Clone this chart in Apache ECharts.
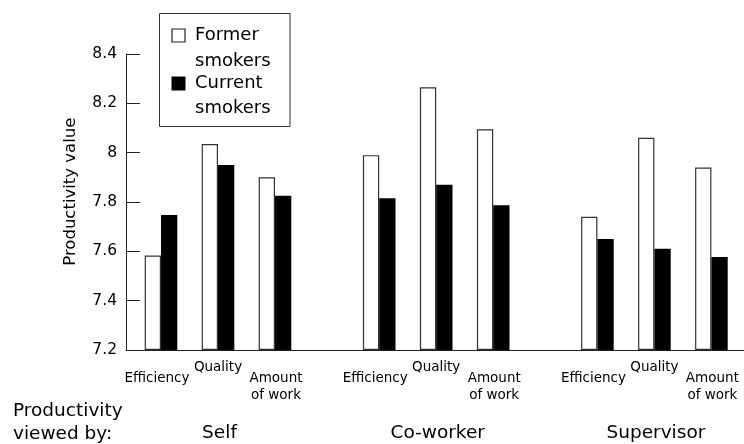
<!DOCTYPE html>
<html><head><meta charset="utf-8">
<script src="https://cdn.jsdelivr.net/npm/echarts@6/dist/echarts.min.js"></script>
<style>html,body{margin:0;padding:0;background:#fff}#c{width:744px;height:444px}</style>
</head><body><div id="c"></div>
<script>
// ---- data ----
const groups = ['Self', 'Co-worker', 'Supervisor'];
const measures = ['Efficiency', 'Quality', 'Amount\nof work'];
const formerSmokers = [7.583, 8.035, 7.90, 7.99, 8.265, 8.095, 7.74, 8.06, 7.94];
const currentSmokers = [7.747, 7.95, 7.825, 7.815, 7.87, 7.787, 7.65, 7.61, 7.577];
const yMin = 7.2, yMax = 8.4, yStep = 0.2;
const seriesNames = ['Former smokers', 'Current smokers'];
const yTitle = 'Productivity value';
const groupTitle = 'Productivity\nviewed by:';

// ---- layout ----
const FONT = 'DejaVu Sans';
const INK = '#000';
const PX = 57;                 // pixels per sub step
const FIRST = 35 / PX, GROUP_STEP = 218.2 / PX, X_MAX = 618 / PX;
const pos = (g, i) => FIRST + g * GROUP_STEP + i;
const labelShift = [-4 / PX, 0, 1 / PX];
const pts = (arr) => arr.map((v, k) => [pos(Math.floor(k / 3), k % 3), v]);

const qualVals = groups.map((_, g) => pos(g, 1) + labelShift[1]);
const otherVals = [], otherText = [];
groups.forEach((_, g) => {
  [0, 2].forEach(i => {
    otherVals.push(pos(g, i) + labelShift[i]); otherText.push(measures[i]);
  });
});
const groupVals = groups.map((_, g) => pos(g, 1) + 1.5 / PX);
const nearest = (vals, texts, v) => {
  let best = 0;
  vals.forEach((x, k) => { if (Math.abs(x - v) < Math.abs(vals[best] - v)) best = k; });
  return texts[best];
};

const hiddenAxis = {
  type: 'value', min: 0, max: X_MAX, position: 'bottom',
  axisLine: { show: false }, axisTick: { show: false }, splitLine: { show: false }
};

const chart = echarts.init(document.getElementById('c'), null, { renderer: 'canvas' });
chart.setOption({
  animation: false,
  backgroundColor: '#fff',
  textStyle: { fontFamily: FONT, color: INK },
  grid: { left: 126, right: 0, top: 54, height: 296, containLabel: false },
  xAxis: [
    Object.assign({}, hiddenAxis, {
      axisLine: { show: true, onZero: false, lineStyle: { color: '#222', width: 1 } },
      axisLabel: {
        customValues: qualVals, margin: 10, fontSize: 13.5, color: INK, fontFamily: FONT,
        formatter: () => measures[1]
      }
    }),
    Object.assign({}, hiddenAxis, {
      axisLabel: {
        customValues: otherVals, margin: 19.5, fontSize: 13.5, lineHeight: 17, color: INK, fontFamily: FONT,
        formatter: (v) => nearest(otherVals, otherText, v)
      }
    }),
    Object.assign({}, hiddenAxis, {
      axisLabel: {
        customValues: groupVals, margin: 74, fontSize: 18.5, color: INK, fontFamily: FONT,
        formatter: (v) => nearest(groupVals, groups, v)
      }
    })
  ],
  yAxis: {
    type: 'value', min: yMin, max: yMax, interval: yStep, startValue: yMin,
    axisLine: { show: true, lineStyle: { color: '#222', width: 1 } },
    axisTick: { show: true, inside: true, length: 14, lineStyle: { color: '#222', width: 1 } },
    axisLabel: { margin: 9, fontSize: 15.5, color: INK, fontFamily: FONT },
    splitLine: { show: false }
  },
  series: [
    {
      type: 'bar', name: seriesNames[0], data: pts(formerSmokers),
      barWidth: 16.3, barGap: '0%',
      itemStyle: { color: '#fff', borderColor: '#333', borderWidth: 1.2 }
    },
    {
      type: 'bar', name: seriesNames[1], data: pts(currentSmokers),
      barWidth: 16.3, barGap: '0%',
      itemStyle: { color: '#000', borderWidth: 0 }
    }
  ],
  graphic: [
    { type: 'rect', shape: { x: 159.5, y: 13.5, width: 130.5, height: 113 },
      style: { fill: '#fff', stroke: '#333', lineWidth: 1 } },
    { type: 'rect', shape: { x: 172, y: 29, width: 13, height: 13 },
      style: { fill: '#fff', stroke: '#222', lineWidth: 1.2 } },
    { type: 'rect', shape: { x: 171.5, y: 76.5, width: 14, height: 14 },
      style: { fill: '#000' } },
    { type: 'text', x: 195, y: 22, style: { text: seriesNames[0].replace(' ', '\n'),
      font: '18px "DejaVu Sans"', lineHeight: 26.5, fill: INK } },
    { type: 'text', x: 195, y: 70.5, style: { text: seriesNames[1].replace(' ', '\n'),
      font: '18px "DejaVu Sans"', lineHeight: 25.5, fill: INK } },
    { type: 'text', x: 71, y: 191.7, rotation: Math.PI / 2,
      style: { text: yTitle, font: '16.5px "DejaVu Sans"', align: 'center', verticalAlign: 'middle', fill: INK } },
    { type: 'text', x: 13, y: 400, style: { text: groupTitle,
      font: '18.5px "DejaVu Sans"', lineHeight: 23, fill: INK } }
  ]
});
</script></body></html>
